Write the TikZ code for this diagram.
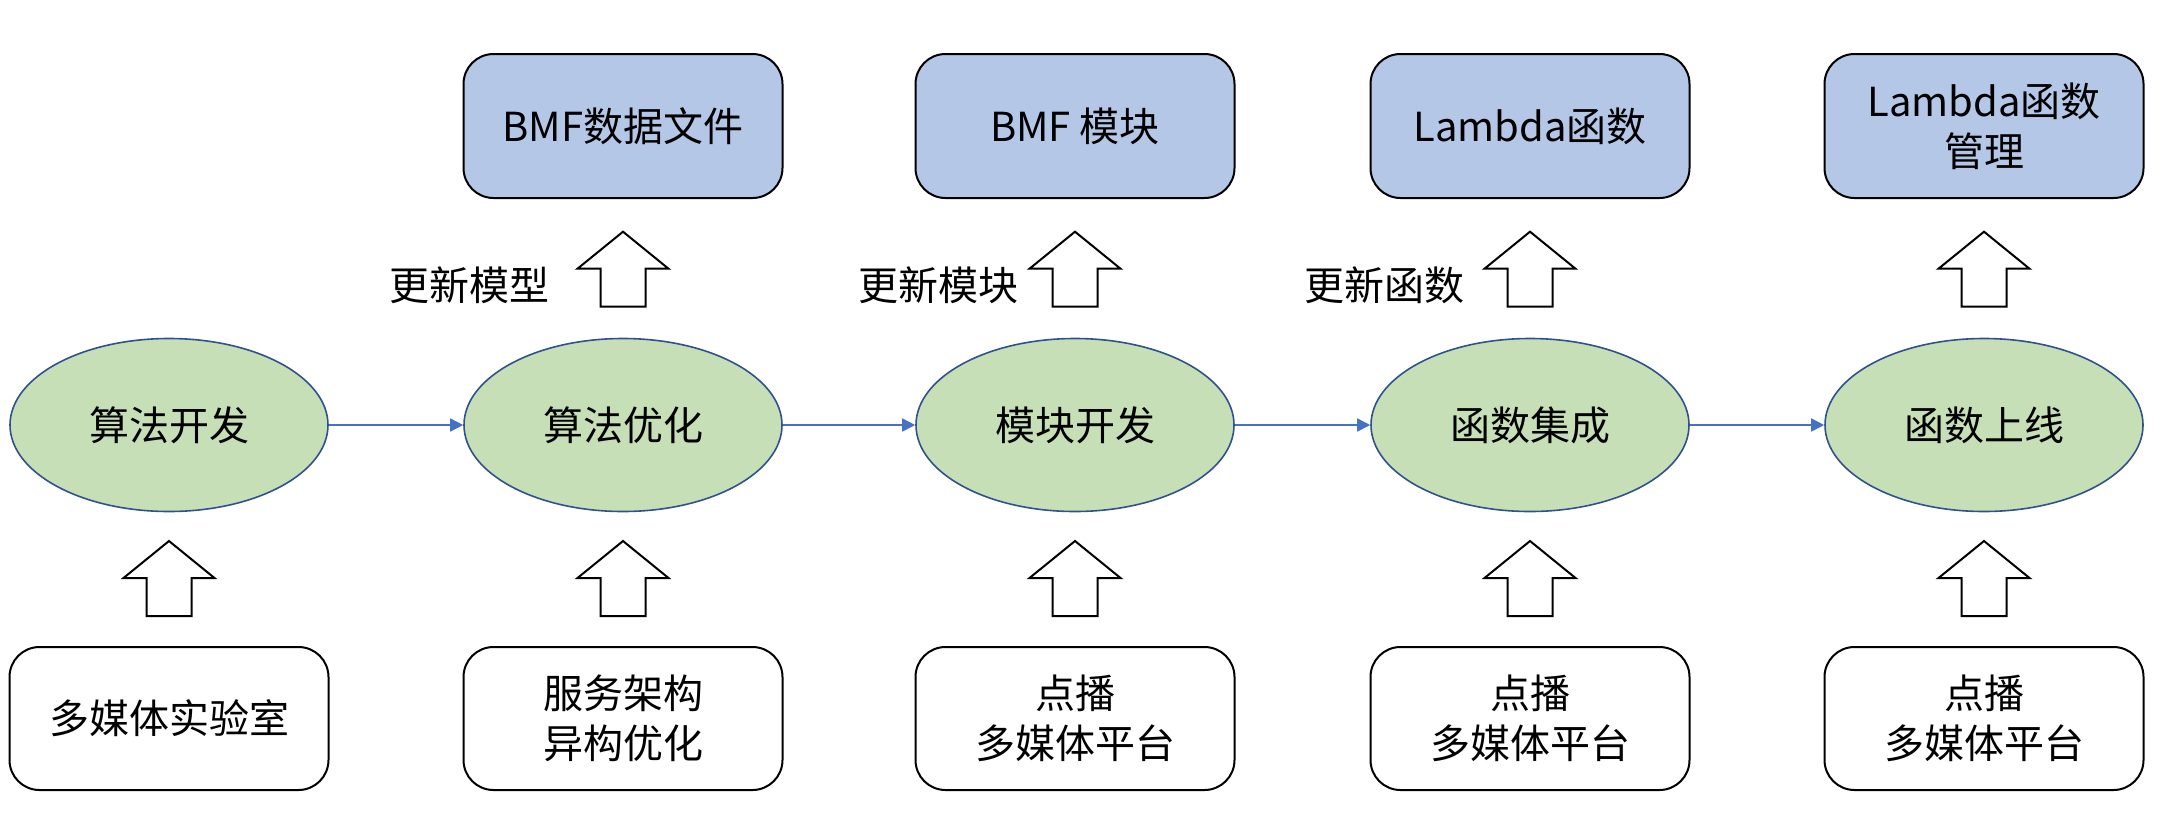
\documentclass[tikz,border=0pt]{standalone}
\usepackage{fontspec}
\setmainfont{Noto Sans CJK SC}
\usepackage{xcolor}
\usetikzlibrary{shapes,arrows.meta}

\definecolor{boxblue}{RGB}{180,199,231}
\definecolor{stagegreen}{RGB}{199,223,183}
\definecolor{rimblue}{RGB}{47,82,143}
\definecolor{flowblue}{RGB}{68,114,196}

\tikzset{
  txt/.style={font=\fontsize{20pt}{25pt}\selectfont, align=center, inner sep=0pt},
  topbox/.style={txt, draw=black, line width=1pt, fill=boxblue, rounded corners=15pt,
                 minimum width=159.5pt, minimum height=72pt},
  basebox/.style={txt, draw=black, line width=1pt, fill=white, rounded corners=15pt,
                  minimum width=159.5pt, minimum height=71.5pt},
  stage/.style={txt, ellipse, draw=rimblue, line width=0.8pt, fill=stagegreen,
                minimum width=159pt, minimum height=86.5pt},
  flow/.style={draw=flowblue, line width=0.8pt, -{Triangle[length=6.5pt,width=6.5pt]}},
  hollow/.style={draw=black, line width=1pt, fill=white, line join=miter}
}

\begin{document}
\begin{tikzpicture}[x=0.5pt,y=0.5pt,yscale=-1,xscale=1]
\useasboundingbox (0,0) rectangle (2168,820);

% Stages
\node[stage] (s1) at (169,425) {算法开发};
\node[stage] (s2) at (623,425) {算法优化};
\node[stage] (s3) at (1075,425) {模块开发};
\node[stage] (s4) at (1530,425) {函数集成};
\node[stage] (s5) at (1984,425) {函数上线};

% Outputs
\node[topbox] (t2) at (623,126) {BMF数据文件};
\node[topbox] (t3) at (1075,126) {BMF 模块};
\node[topbox] (t4) at (1530,126) {Lambda函数};
\node[topbox] (t5) at (1984,126) {Lambda函数\\管理};

% Platforms
\node[basebox] (b1) at (169,718.5) {多媒体实验室};
\node[basebox] (b2) at (623,718.5) {服务架构\\异构优化};
\node[basebox] (b3) at (1075,718.5) {点播\\多媒体平台};
\node[basebox] (b4) at (1530,718.5) {点播\\多媒体平台};
\node[basebox] (b5) at (1984,718.5) {点播\\多媒体平台};

% Text Node
\node[txt] (m2) at (469,285) {更新模型};
\node[txt] (m3) at (938,285) {更新模块};
\node[txt] (m4) at (1384,285) {更新函数};

% flow between stages
\draw[flow] (s1) -- (s2);
\draw[flow] (s2) -- (s3);
\draw[flow] (s3) -- (s4);
\draw[flow] (s4) -- (s5);

% hollow arrows, platform -> stage
\foreach \n in {b1,b2,b3,b4,b5}
  \draw[hollow] (\n.north) ++(-22.5,-30) -- ++(0,-38) -- ++(-23,0) -- ++(45.5,-37)
    -- ++(45.5,37) -- ++(-23,0) -- ++(0,38) -- cycle;

% hollow arrows, stage -> output
\foreach \n in {s2,s3,s4,s5}
  \draw[hollow] (\n.north) ++(-22.5,-31) -- ++(0,-38) -- ++(-23,0) -- ++(45.5,-37)
    -- ++(45.5,37) -- ++(-23,0) -- ++(0,38) -- cycle;

\end{tikzpicture}
\end{document}
